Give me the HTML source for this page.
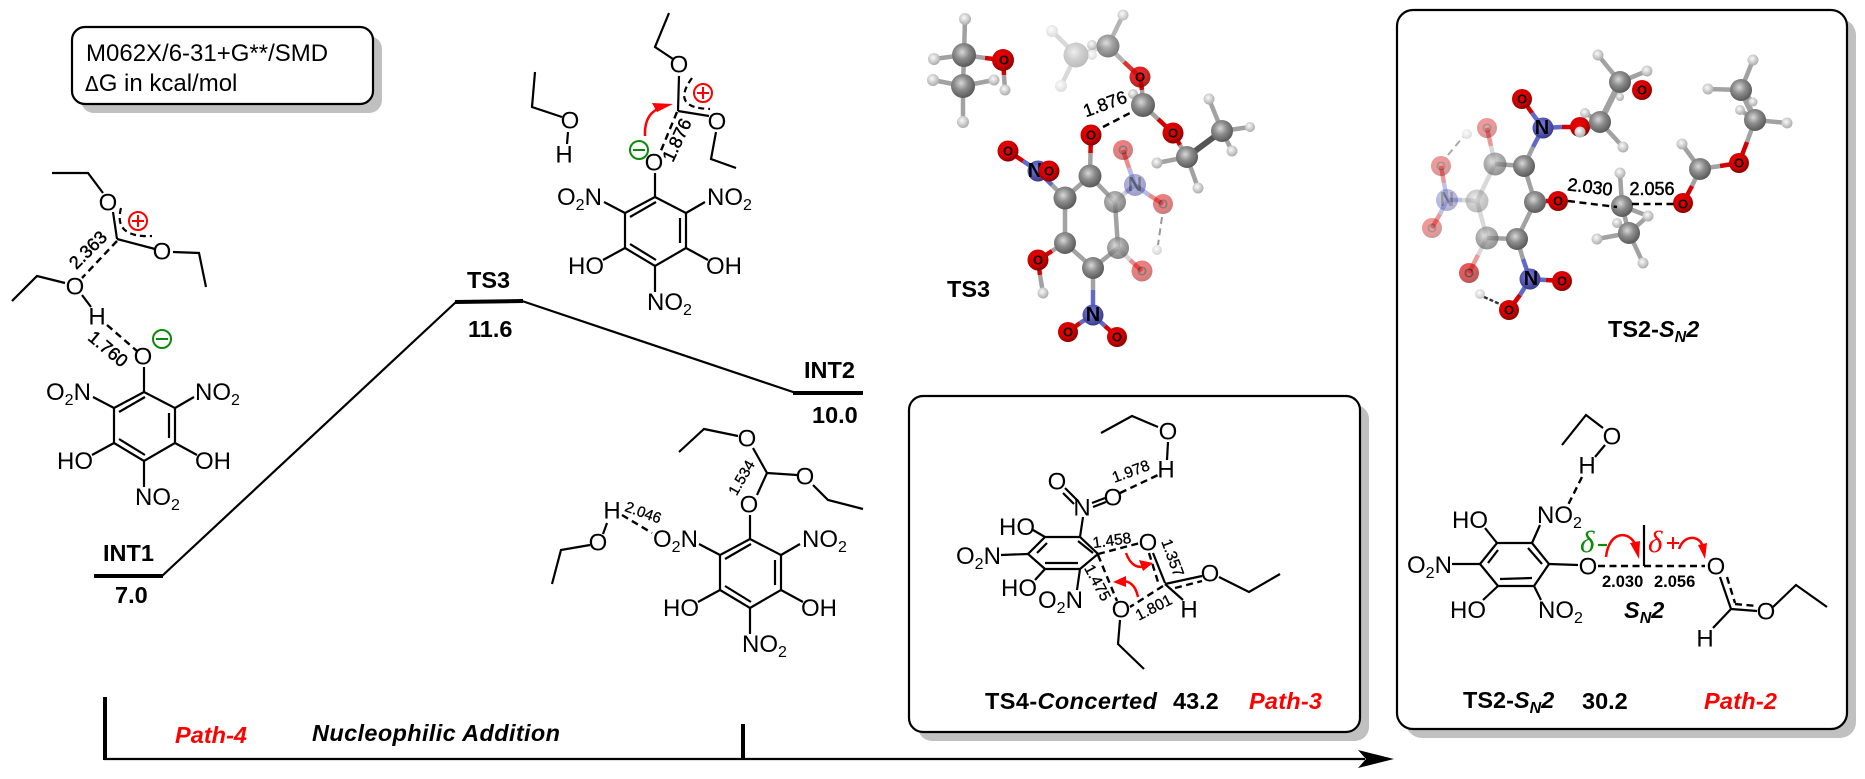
<!DOCTYPE html>
<html><head><meta charset="utf-8"><style>
html,body{margin:0;padding:0;background:#fff}
svg{display:block}
text{font-family:"Liberation Sans",sans-serif;fill:#000}
line,polyline,path.k{stroke:#000;stroke-width:2.2;fill:none}
.d{stroke-dasharray:7 4.5;stroke-width:2.4}
.t{font-size:24px}
.o{font-size:24px;text-anchor:middle;dominant-baseline:central}
.s{font-size:16px}
.n{font-weight:normal;text-anchor:middle;dominant-baseline:central;stroke:#000;stroke-width:.45}
.b{font-size:23.5px;font-weight:bold}
.bi{font-size:23.5px;font-weight:bold;font-style:italic}
.r{fill:#f00}
.bd line{stroke:#a2a2a2;stroke-width:4.5}
.bd line.rb{stroke:#d40000;stroke-width:4.5}
.bd line.nb{stroke:#6068c8;stroke-width:4.5}
.C{fill:url(#gC)}.H{fill:url(#gH)}.O{fill:url(#gO)}.N{fill:url(#gN)}
.a{font-size:13px;font-weight:bold;text-anchor:middle;dominant-baseline:central}
.nn{font-size:20px;font-weight:bold;text-anchor:middle;dominant-baseline:central}
</style></head><body>
<svg width="1865" height="779" viewBox="0 0 1865 779" xmlns="http://www.w3.org/2000/svg">
<defs>
<radialGradient id="gC" cx=".42" cy=".38" r=".65"><stop offset="0" stop-color="#d8d8d8"/><stop offset=".45" stop-color="#8c8c8c"/><stop offset="1" stop-color="#555"/></radialGradient>
<radialGradient id="gH" cx=".42" cy=".38" r=".65"><stop offset="0" stop-color="#fafafa"/><stop offset="1" stop-color="#a8a8a8"/></radialGradient>
<radialGradient id="gO" cx=".42" cy=".38" r=".65"><stop offset="0" stop-color="#f40000"/><stop offset=".6" stop-color="#d00000"/><stop offset="1" stop-color="#800000"/></radialGradient>
<radialGradient id="gN" cx=".42" cy=".38" r=".65"><stop offset="0" stop-color="#7880e8"/><stop offset="1" stop-color="#383888"/></radialGradient>
</defs>

<!-- Method box -->
<rect x="81" y="36" width="301" height="77" rx="13" fill="#c0c0c0"/>
<rect x="72" y="27" width="301" height="77" rx="13" fill="#fff" stroke="#000" stroke-width="2.2"/>
<text x="86" y="61" class="t">M062X/6-31+G**/SMD</text>
<text x="85" y="91" class="t"><tspan font-size="20" font-family="DejaVu Sans">Δ</tspan>G in kcal/mol</text>

<!-- Energy profile -->
<line x1="94" y1="576" x2="163" y2="576" style="stroke-width:4"/>
<line x1="162" y1="576" x2="456" y2="302"/>
<polyline points="455,302 523,301" style="stroke-width:4"/>
<line x1="522" y1="301" x2="796" y2="393"/>
<line x1="793" y1="393" x2="863" y2="393" style="stroke-width:4"/>
<text x="467" y="288" class="b">TS3</text>
<text x="468" y="337" class="b">11.6</text>
<text x="103" y="561" class="b">INT1</text>
<text x="115" y="603" class="b">7.0</text>
<text x="804" y="378" class="b">INT2</text>
<text x="812" y="423" class="b">10.0</text>

<!-- Axis -->
<line x1="105" y1="697" x2="105" y2="760" style="stroke-width:4"/>
<line x1="104" y1="759" x2="1365" y2="759"/>
<line x1="743" y1="724" x2="743" y2="759" style="stroke-width:4"/>
<polygon points="1394,759 1358,750 1366,759 1358,768" fill="#000"/>
<text x="175" y="743" class="bi r" textLength="72">Path-4</text>
<text x="312" y="741" class="bi" textLength="248">Nucleophilic Addition</text>

<!-- INT1 molecule -->
<polyline points="52,173 88,173 103,193"/>
<text x="108" y="203" class="o">O</text>
<line x1="113" y1="212" x2="117" y2="239"/>
<polyline points="117,239 155,249"/>
<text x="162" y="252" class="o">O</text>
<polyline points="173,252 199,253 206,287"/>
<path class="k d" d="M121,208 Q113,238 152,236" style="stroke-dasharray:6 4"/>
<circle cx="138" cy="221" r="9" fill="none" stroke="#f00" stroke-width="2"/>
<path d="M132,221H144M138,215V227" stroke="#f00" stroke-width="2"/>
<line class="d" x1="117" y1="241" x2="82" y2="278"/>
<text x="75" y="287" class="o">O</text>
<polyline points="65,283 37,276 12,301"/>
<line x1="82" y1="295" x2="91" y2="307"/>
<text x="97" y="317" class="o">H</text>
<line class="d" x1="107" y1="325" x2="137" y2="351"/>
<text x="143" y="357" class="o">O</text>
<circle cx="162" cy="339" r="9" fill="none" stroke="#0a8a0a" stroke-width="2"/>
<path d="M156,339H168" stroke="#0a8a0a" stroke-width="2"/>
<text class="n" transform="translate(88,250) rotate(-45)" style="font-size:18px">2.363</text>
<text class="n" transform="translate(108,349) rotate(40)" style="font-size:18px">1.760</text>
<line x1="144" y1="367" x2="144" y2="392"/>
<g>
<polygon points="144,392 175,408 175,443 144,461 114,443 114,408" fill="none" stroke="#000" stroke-width="2.2"/>
<line x1="119" y1="412" x2="145" y2="397"/><line x1="169" y1="413" x2="169" y2="438"/><line x1="119" y1="439" x2="145" y2="455"/>
<line x1="93" y1="397" x2="114" y2="408"/><line x1="194" y1="397" x2="175" y2="408"/><line x1="92" y1="455" x2="114" y2="443"/><line x1="197" y1="455" x2="175" y2="443"/><line x1="144" y1="461" x2="144" y2="487"/>
<text x="46" y="400" class="t">O<tspan class="s" dy="5">2</tspan><tspan dy="-5">N</tspan></text>
<text x="195" y="400" class="t">NO<tspan class="s" dy="5">2</tspan></text>
<text x="57" y="469" class="t">HO</text>
<text x="195" y="469" class="t">OH</text>
<text x="135" y="505" class="t">NO<tspan class="s" dy="5">2</tspan></text>
</g>

<!-- TS3 2D molecule -->
<polyline points="669,13 655,47 673,59"/>
<text x="679" y="65" class="o">O</text>
<line x1="679" y1="76" x2="678" y2="111"/>
<line x1="678" y1="111" x2="709" y2="116"/>
<text x="717" y="122" class="o">O</text>
<polyline points="716,132 711,159 736,168"/>
<line class="d" x1="677" y1="112" x2="660" y2="153"/>
<path class="k d" d="M692,78 Q670,108 710,109" style="stroke-dasharray:6 4"/>
<circle cx="703" cy="93" r="9" fill="none" stroke="#f00" stroke-width="2"/>
<path d="M697,93H709M703,87V99" stroke="#f00" stroke-width="2"/>
<circle cx="639" cy="150" r="9" fill="none" stroke="#0a8a0a" stroke-width="2"/>
<path d="M633,150H645" stroke="#0a8a0a" stroke-width="2"/>
<text class="n" transform="translate(677,140) rotate(-65)" style="font-size:18px">1.876</text>
<path d="M645,136 Q644,114 660,108" fill="none" stroke="#f00" stroke-width="2.5"/>
<polygon points="673,104 652,103 657,112" fill="#f00"/>
<polyline points="535,72 532,107 562,117"/>
<text x="570" y="121" class="o">O</text>
<line x1="568" y1="132" x2="567" y2="144"/>
<text x="564" y="155" class="o">H</text>
<text x="654" y="163" class="o">O</text>
<line x1="655" y1="173" x2="655" y2="197"/>
<g transform="translate(511,-195)">
<polygon points="144,392 175,408 175,443 144,461 114,443 114,408" fill="none" stroke="#000" stroke-width="2.2"/>
<line x1="119" y1="412" x2="145" y2="397"/><line x1="169" y1="413" x2="169" y2="438"/><line x1="119" y1="439" x2="145" y2="455"/>
<line x1="93" y1="397" x2="114" y2="408"/><line x1="194" y1="397" x2="175" y2="408"/><line x1="92" y1="455" x2="114" y2="443"/><line x1="197" y1="455" x2="175" y2="443"/><line x1="144" y1="461" x2="144" y2="487"/>
<text x="46" y="400" class="t">O<tspan class="s" dy="5">2</tspan><tspan dy="-5">N</tspan></text>
<text x="196" y="400" class="t">NO<tspan class="s" dy="5">2</tspan></text>
<text x="57" y="469" class="t">HO</text>
<text x="195" y="469" class="t">OH</text>
<text x="136" y="505" class="t">NO<tspan class="s" dy="5">2</tspan></text>
</g>

<!-- INT2 2D molecule -->
<polyline points="679,452 704,429 738,436"/>
<text x="747" y="439" class="o">O</text>
<line x1="753" y1="448" x2="767" y2="473"/>
<line x1="767" y1="473" x2="757" y2="495"/>
<line x1="767" y1="473" x2="797" y2="475"/>
<text x="805" y="477" class="o">O</text>
<polyline points="813,485 828,500 863,509"/>
<text x="749" y="505" class="o">O</text>
<line x1="750" y1="515" x2="750" y2="539"/>
<text class="n" transform="translate(742,478) rotate(-60)" style="font-size:15px;stroke-width:.3">1.534</text>
<text class="n" transform="translate(643,513) rotate(20)" style="font-size:15px;stroke-width:.3">2.046</text>
<text x="612" y="511" class="o">H</text>
<line class="d" x1="622" y1="515" x2="652" y2="533"/>
<line x1="607" y1="523" x2="603" y2="534"/>
<text x="598" y="543" class="o">O</text>
<polyline points="590,545 561,550 552,584"/>
<g transform="translate(606,147)">
<polygon points="144,392 175,408 175,443 144,461 114,443 114,408" fill="none" stroke="#000" stroke-width="2.2"/>
<line x1="119" y1="412" x2="145" y2="397"/><line x1="169" y1="413" x2="169" y2="438"/><line x1="119" y1="439" x2="145" y2="455"/>
<line x1="93" y1="397" x2="114" y2="408"/><line x1="194" y1="397" x2="175" y2="408"/><line x1="92" y1="455" x2="114" y2="443"/><line x1="197" y1="455" x2="175" y2="443"/><line x1="144" y1="461" x2="144" y2="487"/>
<text x="47" y="400" class="t">O<tspan class="s" dy="5">2</tspan><tspan dy="-5">N</tspan></text>
<text x="196" y="400" class="t">NO<tspan class="s" dy="5">2</tspan></text>
<text x="57" y="469" class="t">HO</text>
<text x="195" y="469" class="t">OH</text>
<text x="136" y="505" class="t">NO<tspan class="s" dy="5">2</tspan></text>
</g>

<!-- TS4 box -->
<rect x="918" y="405" width="451" height="336" rx="14" fill="#c0c0c0"/>
<rect x="909" y="396" width="451" height="336" rx="14" fill="#fff" stroke="#000" stroke-width="2.2"/>
<polygon points="1045,537 1080,537 1098,554 1080,569 1045,569 1028,554" fill="none" stroke="#000" stroke-width="2.2"/>
<line x1="1047" y1="543" x2="1037" y2="553"/><line x1="1045" y1="563" x2="1078" y2="563"/><line x1="1078" y1="541" x2="1093" y2="553"/>
<text x="999" y="535" class="t">HO</text><line x1="1033" y1="530" x2="1045" y2="537"/>
<text x="956" y="564" class="t">O<tspan class="s" dy="5">2</tspan><tspan dy="-5">N</tspan></text><line x1="1001" y1="555" x2="1028" y2="554"/>
<text x="1001" y="596" class="t">HO</text><line x1="1035" y1="580" x2="1045" y2="569"/>
<text x="1038" y="608" class="t">O<tspan class="s" dy="5">2</tspan><tspan dy="-5">N</tspan></text><line x1="1077" y1="590" x2="1080" y2="569"/>
<text x="1082" y="508" class="o">N</text><line x1="1083" y1="517" x2="1080" y2="537"/>
<text x="1057" y="482" class="o">O</text><text x="1113" y="498" class="o">O</text>
<line x1="1065" y1="488" x2="1077" y2="500"/><line x1="1063" y1="493" x2="1074" y2="504"/>
<line x1="1092" y1="503" x2="1105" y2="498"/><line x1="1093" y1="507" x2="1106" y2="502"/>
<line class="d" x1="1120" y1="493" x2="1158" y2="475"/>
<text x="1166" y="470" class="o">H</text>
<line x1="1168" y1="442" x2="1167" y2="460"/>
<text x="1168" y="432" class="o">O</text>
<polyline points="1158,427 1132,416 1101,433"/>
<line class="d" x1="1098" y1="554" x2="1140" y2="543"/>
<text x="1148" y="543" class="o">O</text>
<line class="d" x1="1098" y1="555" x2="1117" y2="601"/>
<text x="1121" y="610" class="o">O</text>
<line x1="1153" y1="553" x2="1165" y2="583"/>
<line class="d" x1="1149" y1="553" x2="1158" y2="582"/>
<line x1="1165" y1="584" x2="1202" y2="576"/>
<line class="d" x1="1175" y1="588" x2="1202" y2="581"/>
<text x="1210" y="574" class="o">O</text>
<polyline points="1219,577 1249,592 1280,574"/>
<line x1="1165" y1="584" x2="1183" y2="600"/>
<text x="1189" y="610" class="o">H</text>
<line class="d" x1="1163" y1="586" x2="1130" y2="607"/>
<polyline points="1120,620 1118,644 1144,669"/>
<path d="M1126,553 Q1133,572 1148,565" fill="none" stroke="#f00" stroke-width="2.5"/>
<polygon points="1153,563 1139,560 1143,571" fill="#f00"/>
<path d="M1138,597 Q1134,578 1118,582" fill="none" stroke="#f00" stroke-width="2.5"/>
<polygon points="1113,582 1126,576 1126,587" fill="#f00"/>
<text class="n" transform="translate(1112,541) rotate(-8)" style="font-size:15.5px;stroke-width:.3">1.458</text>
<text class="n" transform="translate(1131,472) rotate(-20)" style="font-size:15.5px;stroke-width:.3">1.978</text>
<text class="n" transform="translate(1172,558) rotate(70)" style="font-size:15.5px;stroke-width:.3">1.357</text>
<text class="n" transform="translate(1097,583) rotate(62)" style="font-size:15.5px;stroke-width:.3">1.475</text>
<text class="n" transform="translate(1154,608) rotate(-27)" style="font-size:15.5px;stroke-width:.3">1.801</text>
<text x="985" y="709" class="b" textLength="172">TS4-<tspan font-style="italic">Concerted</tspan></text>
<text x="1173" y="709" class="b">43.2</text>
<text x="1249" y="709" class="bi r" textLength="73">Path-3</text>

<!-- TS2 box -->
<rect x="1406" y="19" width="450" height="719" rx="16" fill="#c0c0c0"/>
<rect x="1397" y="10" width="450" height="719" rx="16" fill="#fff" stroke="#000" stroke-width="2.2"/>
<polygon points="1497,543 1532,543 1549,564 1534,586 1498,586 1480,564" fill="none" stroke="#000" stroke-width="2.2"/>
<line x1="1498" y1="550" x2="1488" y2="563"/><line x1="1528" y1="548" x2="1542" y2="564"/><line x1="1500" y1="579" x2="1532" y2="578"/>
<text x="1452" y="528" class="t">HO</text><line x1="1485" y1="528" x2="1497" y2="543"/>
<text x="1407" y="573" class="t">O<tspan class="s" dy="5">2</tspan><tspan dy="-5">N</tspan></text><line x1="1452" y1="564" x2="1480" y2="564"/>
<text x="1450" y="618" class="t">HO</text><line x1="1483" y1="600" x2="1498" y2="586"/>
<text x="1537" y="523" class="t">NO<tspan class="s" dy="5">2</tspan></text><line x1="1540" y1="525" x2="1532" y2="543"/>
<text x="1538" y="618" class="t">NO<tspan class="s" dy="5">2</tspan></text><line x1="1541" y1="600" x2="1534" y2="586"/>
<line x1="1549" y1="564" x2="1578" y2="565"/>
<text x="1588" y="567" class="o">O</text>
<line class="d" x1="1598" y1="566" x2="1705" y2="566"/>
<line x1="1644" y1="525" x2="1644" y2="566"/>
<text x="1716" y="567" class="o">O</text>
<line x1="1720" y1="577" x2="1731" y2="609"/>
<line class="d" x1="1727" y1="577" x2="1735" y2="603"/>
<line x1="1731" y1="609" x2="1757" y2="611"/>
<line class="d" x1="1735" y1="604" x2="1757" y2="606"/>
<text x="1766" y="612" class="o">O</text>
<polyline points="1773,607 1796,585 1827,607"/>
<line x1="1731" y1="609" x2="1713" y2="628"/>
<text x="1705" y="639" class="o">H</text>
<text x="1587" y="466" class="o">H</text>
<line class="d" x1="1582" y1="477" x2="1568" y2="505"/>
<text x="1612" y="437" class="o">O</text>
<line x1="1605" y1="445" x2="1595" y2="457"/>
<polyline points="1603,428 1586,415 1562,445"/>
<text x="1580" y="552" style="font-family:'Liberation Serif',serif;font-style:italic;font-size:31px;fill:#0a8a0a">δ</text>
<line x1="1598" y1="545" x2="1607" y2="545" style="stroke:#0a8a0a"/>
<text x="1648" y="552" style="font-family:'Liberation Serif',serif;font-style:italic;font-size:31px;fill:#f00">δ</text>
<path d="M1667,543H1679M1673,537V549" stroke="#f00" stroke-width="2"/>
<path d="M1606,557 C1609,530 1630,530 1636,546" fill="none" stroke="#f00" stroke-width="2.5"/>
<polygon points="1639,559 1630,543 1640,541" fill="#f00"/>
<path d="M1679,549 C1684,534 1700,535 1703,547" fill="none" stroke="#f00" stroke-width="2.5"/>
<polygon points="1705,559 1698,545 1707,543" fill="#f00"/>
<text x="1602" y="587" style="font-size:16.5px;font-weight:bold">2.030</text>
<text x="1654" y="587" style="font-size:16.5px;font-weight:bold">2.056</text>
<text x="1624" y="618" class="bi">S<tspan font-size="16" dy="5">N</tspan><tspan dy="-5">2</tspan></text>
<text x="1463" y="708" class="b">TS2-<tspan font-style="italic">S</tspan><tspan font-size="16" font-style="italic" dy="5">N</tspan><tspan font-style="italic" dy="-5">2</tspan></text>
<text x="1582" y="709" class="b">30.2</text>
<text x="1704" y="709" class="bi r" textLength="73">Path-2</text>
<text x="1608" y="337" class="b">TS2-<tspan font-style="italic">S</tspan><tspan font-size="16" font-style="italic" dy="5">N</tspan><tspan font-style="italic" dy="-5">2</tspan></text>
<text x="947" y="297" class="b">TS3</text>

<!-- TS3 3D -->
<g class="bd">
<line x1="964" y1="55" x2="963" y2="86"/><line x1="964" y1="55" x2="965" y2="19"/><line x1="964" y1="55" x2="934" y2="59"/>
<line x1="964" y1="55" x2="985" y2="58"/><line class="rb" x1="985" y1="58" x2="1003" y2="60"/><line class="rb" x1="1003" y1="60" x2="1004" y2="75"/><line x1="1004" y1="75" x2="1005" y2="90"/>
<line x1="963" y1="86" x2="933" y2="80"/><line x1="963" y1="86" x2="994" y2="80"/><line x1="963" y1="86" x2="963" y2="122"/>
</g>
<circle class="H" cx="965" cy="19" r="6"/><circle class="H" cx="934" cy="59" r="6"/><circle class="H" cx="933" cy="80" r="6"/><circle class="H" cx="994" cy="80" r="5.5"/><circle class="H" cx="963" cy="122" r="6"/><circle class="H" cx="1005" cy="90" r="5.5"/>
<circle class="C" cx="964" cy="55" r="12"/><circle class="C" cx="963" cy="86" r="12"/>
<circle class="O" cx="1003" cy="60" r="11"/><text x="1004" y="60" class="a">O</text>

<g opacity=".4">
<g class="bd">
<line x1="1108" y1="46" x2="1076" y2="55"/><line x1="1076" y1="55" x2="1052" y2="31"/><line x1="1076" y1="55" x2="1061" y2="86"/><line x1="1076" y1="55" x2="1092" y2="55"/>
</g>
<circle class="H" cx="1052" cy="31" r="6"/><circle class="H" cx="1061" cy="86" r="6"/><circle class="H" cx="1092" cy="55" r="5"/>
<circle class="C" cx="1076" cy="55" r="12.5"/>
</g>
<g opacity=".8">
<g class="bd"><line x1="1108" y1="46" x2="1123" y2="15"/><line x1="1108" y1="46" x2="1124" y2="62"/><line class="rb" x1="1124" y1="62" x2="1140" y2="77"/></g>
<circle class="H" cx="1123" cy="15" r="5.5"/><circle class="H" cx="1092" cy="45" r="5"/>
<circle class="C" cx="1108" cy="46" r="11.5"/>
</g>
<g class="bd">
<line class="rb" x1="1140" y1="77" x2="1142" y2="90"/><line x1="1142" y1="90" x2="1143" y2="105"/><line x1="1143" y1="105" x2="1158" y2="119"/><line class="rb" x1="1158" y1="119" x2="1173" y2="133"/>
<line class="rb" x1="1173" y1="133" x2="1180" y2="145"/><line x1="1180" y1="145" x2="1187" y2="157"/><line x1="1187" y1="157" x2="1222" y2="131" style="stroke:#555;stroke-width:6"/><line x1="1222" y1="131" x2="1209" y2="99"/><line x1="1222" y1="131" x2="1250" y2="127"/><line x1="1222" y1="131" x2="1232" y2="151"/><line x1="1187" y1="157" x2="1157" y2="163"/><line x1="1187" y1="157" x2="1198" y2="188"/>
</g>
<circle class="O" cx="1140" cy="77" r="10.5" opacity=".85"/><text x="1140" y="77" class="a">O</text>
<circle class="H" cx="1133" cy="94" r="5"/>
<circle class="C" cx="1143" cy="105" r="12"/>
<circle class="H" cx="1209" cy="99" r="5.5"/><circle class="H" cx="1250" cy="127" r="5"/><circle class="H" cx="1232" cy="151" r="5.5"/><circle class="H" cx="1157" cy="163" r="5.5"/><circle class="H" cx="1198" cy="188" r="5.5"/>
<circle class="O" cx="1173" cy="133" r="10.5"/><text x="1173" y="133" class="a">O</text>
<circle class="C" cx="1187" cy="157" r="11"/><circle class="C" cx="1222" cy="131" r="11"/>
<line class="d" x1="1103" y1="127" x2="1130" y2="113" style="stroke-width:2.5"/>
<text class="n" transform="translate(1105,104) rotate(-20)" style="font-size:18px;stroke-width:.35">1.876</text>

<g class="bd">
<line class="rb" x1="1091" y1="135" x2="1090.5" y2="153"/><line x1="1090.5" y1="153" x2="1090" y2="176"/>
<line x1="1090" y1="176" x2="1065" y2="198"/><line x1="1065" y1="198" x2="1065" y2="243"/><line x1="1065" y1="243" x2="1093" y2="268"/><line x1="1093" y1="268" x2="1118" y2="248"/><line x1="1118" y1="248" x2="1115" y2="202"/><line x1="1115" y1="202" x2="1090" y2="176"/>
<line x1="1065" y1="198" x2="1052" y2="185"/><line class="nb" x1="1052" y1="185" x2="1038" y2="171"/><line class="nb" x1="1038" y1="171" x2="1023" y2="161"/><line class="rb" x1="1023" y1="161" x2="1008" y2="151"/>
<line x1="1065" y1="243" x2="1052" y2="251"/><line class="rb" x1="1052" y1="251" x2="1038" y2="260"/><line class="rb" x1="1038" y1="260" x2="1040" y2="275"/><line x1="1040" y1="275" x2="1043" y2="293"/>
<line x1="1093" y1="268" x2="1093" y2="290"/><line class="nb" x1="1093" y1="290" x2="1093" y2="315"/><line class="nb" x1="1093" y1="315" x2="1080" y2="323"/><line class="rb" x1="1080" y1="323" x2="1068" y2="332"/><line class="nb" x1="1093" y1="315" x2="1105" y2="326"/><line class="rb" x1="1105" y1="326" x2="1117" y2="337"/>
</g>
<g opacity=".45" class="bd">
<line x1="1115" y1="202" x2="1125" y2="193"/><line class="nb" x1="1125" y1="193" x2="1135" y2="185"/><line class="nb" x1="1135" y1="185" x2="1129" y2="168"/><line class="rb" x1="1129" y1="168" x2="1123" y2="150"/><line class="nb" x1="1135" y1="185" x2="1149" y2="195"/><line class="rb" x1="1149" y1="195" x2="1163" y2="204"/><line x1="1118" y1="248" x2="1130" y2="260"/><line class="rb" x1="1130" y1="260" x2="1142" y2="271"/>
</g>
<line class="d" x1="1162" y1="217" x2="1158" y2="245" style="stroke:#999;stroke-width:2"/>
<g opacity=".5">
<circle class="O" cx="1123" cy="150" r="10"/><text x="1123" y="150" class="a">O</text>
<circle class="N" cx="1135" cy="185" r="11"/><text x="1135" y="185" class="nn">N</text>
<circle class="O" cx="1163" cy="204" r="10"/><text x="1163" y="204" class="a">O</text>
<circle class="H" cx="1157" cy="250" r="5"/>
<circle class="O" cx="1142" cy="271" r="10.5"/><text x="1142" y="271" class="a">O</text>
</g>
<circle class="C" cx="1115" cy="202" r="11" opacity=".75"/><circle class="C" cx="1118" cy="248" r="11" opacity=".75"/>
<circle class="O" cx="1091" cy="135" r="10.5"/><text x="1091" y="135" class="a">O</text>
<circle class="C" cx="1090" cy="176" r="11.5"/><circle class="C" cx="1065" cy="198" r="11.5"/><circle class="C" cx="1065" cy="243" r="11"/><circle class="C" cx="1093" cy="268" r="11"/>
<circle class="O" cx="1008" cy="151" r="10.5"/><text x="1008" y="151" class="a">O</text>
<circle class="N" cx="1038" cy="171" r="10.5"/><text x="1035" y="171" class="nn">N</text>
<circle class="O" cx="1049" cy="171" r="10.5"/><text x="1049" y="171" class="a">O</text>
<circle class="O" cx="1038" cy="260" r="10.5"/><text x="1038" y="260" class="a">O</text>
<circle class="H" cx="1043" cy="293" r="5.5"/>
<circle class="N" cx="1093" cy="315" r="10.5"/><text x="1093" y="315" class="nn">N</text>
<circle class="O" cx="1068" cy="332" r="10"/><text x="1068" y="332" class="a">O</text>
<circle class="O" cx="1117" cy="337" r="10"/><text x="1117" y="337" class="a">O</text>

<!-- TS2 3D -->
<g class="bd">
<line x1="1620" y1="82" x2="1598" y2="55"/><line x1="1620" y1="82" x2="1647" y2="71"/><line x1="1620" y1="82" x2="1600" y2="122" style="stroke-width:6"/><line x1="1600" y1="122" x2="1623" y2="147"/><line x1="1600" y1="122" x2="1580" y2="132"/><line x1="1600" y1="122" x2="1585" y2="113"/>
<line class="nb" x1="1543" y1="128" x2="1532" y2="113"/><line class="rb" x1="1532" y1="113" x2="1522" y2="99"/><line class="nb" x1="1543" y1="128" x2="1562" y2="127"/><line class="rb" x1="1562" y1="127" x2="1580" y2="127"/><line x1="1524" y1="166" x2="1533" y2="147"/><line class="nb" x1="1533" y1="147" x2="1543" y2="128"/>
<line x1="1524" y1="166" x2="1535" y2="202"/><line x1="1535" y1="202" x2="1517" y2="239"/><line x1="1524" y1="166" x2="1495" y2="164"/>
<line x1="1517" y1="239" x2="1487" y2="238"/><line x1="1517" y1="239" x2="1523" y2="259"/><line class="nb" x1="1523" y1="259" x2="1530" y2="279"/><line class="nb" x1="1530" y1="279" x2="1546" y2="280"/><line class="rb" x1="1546" y1="280" x2="1562" y2="281"/><line class="nb" x1="1530" y1="279" x2="1520" y2="295"/><line class="rb" x1="1520" y1="295" x2="1509" y2="310"/>
<line x1="1535" y1="202" x2="1546" y2="201"/><line class="rb" x1="1546" y1="201" x2="1558" y2="201"/>
</g>
<g opacity=".4" class="bd">
<line x1="1495" y1="164" x2="1477" y2="201"/><line x1="1477" y1="201" x2="1487" y2="238"/><line x1="1477" y1="201" x2="1462" y2="200"/><line class="nb" x1="1462" y1="200" x2="1447" y2="200"/><line class="nb" x1="1447" y1="200" x2="1444" y2="183"/><line class="rb" x1="1444" y1="183" x2="1441" y2="166"/><line class="nb" x1="1447" y1="200" x2="1440" y2="214"/><line class="rb" x1="1440" y1="214" x2="1432" y2="228"/><line x1="1495" y1="164" x2="1491" y2="146"/><line class="rb" x1="1491" y1="146" x2="1487" y2="128"/><line x1="1487" y1="238" x2="1478" y2="255"/><line class="rb" x1="1478" y1="255" x2="1469" y2="273"/>
</g>
<line class="d" x1="1448" y1="155" x2="1463" y2="137" style="stroke:#aaa;stroke-width:2"/>
<line class="d" x1="1484" y1="297" x2="1502" y2="305" style="stroke-dasharray:4 2;stroke:#333"/>
<circle class="H" cx="1598" cy="55" r="5.5"/><circle class="H" cx="1647" cy="71" r="5.5"/><circle class="H" cx="1623" cy="147" r="5.5"/><circle class="H" cx="1620" cy="97" r="4"/>
<circle class="O" cx="1642" cy="90" r="10"/><text x="1642" y="90" class="a">O</text>
<circle class="C" cx="1620" cy="82" r="11"/>
<circle class="O" cx="1580" cy="127" r="10"/>
<circle class="H" cx="1580" cy="132" r="5.5"/><circle class="H" cx="1585" cy="113" r="5"/>
<circle class="C" cx="1600" cy="122" r="11"/>
<circle class="O" cx="1522" cy="99" r="10"/><text x="1522" y="99" class="a">O</text>
<circle class="N" cx="1543" cy="128" r="10.5"/><text x="1542" y="128" class="nn">N</text>
<g opacity=".4">
<circle class="O" cx="1487" cy="128" r="10"/><text x="1487" y="128" class="a">O</text>
<circle class="H" cx="1467" cy="134" r="5"/>
<circle class="O" cx="1441" cy="166" r="10"/><text x="1441" y="166" class="a">O</text>
<circle class="N" cx="1447" cy="200" r="11"/><text x="1447" y="200" class="nn">N</text>
<circle class="O" cx="1432" cy="228" r="10"/><text x="1432" y="228" class="a">O</text>
<circle class="C" cx="1477" cy="201" r="11.5"/>
</g>
<g opacity=".65">
<circle class="C" cx="1495" cy="164" r="11.5"/><circle class="C" cx="1487" cy="238" r="11.5"/>
<circle class="O" cx="1469" cy="273" r="10"/><text x="1469" y="273" class="a">O</text>
<circle class="H" cx="1480" cy="294" r="5"/>
</g>
<circle class="C" cx="1524" cy="166" r="11"/><circle class="C" cx="1535" cy="202" r="11"/><circle class="C" cx="1517" cy="239" r="11"/>
<circle class="O" cx="1558" cy="201" r="10"/><text x="1558" y="201" class="a">O</text>
<circle class="O" cx="1509" cy="310" r="10"/><text x="1509" y="310" class="a">O</text>
<circle class="N" cx="1530" cy="279" r="10.5"/><text x="1531" y="279" class="nn">N</text>
<circle class="O" cx="1562" cy="281" r="10"/><text x="1562" y="281" class="a">O</text>

<g class="bd">
<line x1="1622" y1="206" x2="1620" y2="173"/><line x1="1622" y1="206" x2="1629" y2="233"/><line x1="1622" y1="206" x2="1648" y2="216"/><line x1="1629" y1="233" x2="1597" y2="239"/><line x1="1629" y1="233" x2="1643" y2="263"/><line x1="1629" y1="233" x2="1648" y2="216"/><line x1="1629" y1="233" x2="1617" y2="223"/>
<line x1="1700" y1="169" x2="1682" y2="144"/><line x1="1700" y1="169" x2="1692" y2="186"/><line class="rb" x1="1692" y1="186" x2="1683" y2="203"/><line x1="1700" y1="169" x2="1720" y2="166"/><line class="rb" x1="1720" y1="166" x2="1739" y2="163"/><line class="rb" x1="1739" y1="163" x2="1747" y2="142"/><line x1="1747" y1="142" x2="1755" y2="120"/><line x1="1755" y1="120" x2="1787" y2="123"/><line x1="1755" y1="120" x2="1740" y2="110"/><line x1="1755" y1="120" x2="1741" y2="90" style="stroke-width:6"/><line x1="1741" y1="90" x2="1708" y2="89"/><line x1="1741" y1="90" x2="1753" y2="60"/><line x1="1741" y1="90" x2="1753" y2="102"/>
</g>
<circle class="H" cx="1620" cy="173" r="5.5"/><circle class="H" cx="1648" cy="216" r="5.5"/><circle class="H" cx="1617" cy="223" r="5"/><circle class="H" cx="1597" cy="239" r="5.5"/><circle class="H" cx="1643" cy="263" r="5.5"/>
<circle class="C" cx="1629" cy="233" r="11"/><circle class="C" cx="1622" cy="206" r="11"/>
<circle class="H" cx="1682" cy="144" r="5.5"/><circle class="H" cx="1787" cy="123" r="5.5"/><circle class="H" cx="1753" cy="102" r="4.5"/><circle class="H" cx="1740" cy="110" r="5"/><circle class="H" cx="1708" cy="89" r="5.5"/><circle class="H" cx="1753" cy="60" r="5.5"/>
<circle class="C" cx="1741" cy="90" r="11"/><circle class="C" cx="1755" cy="120" r="11"/>
<circle class="C" cx="1700" cy="169" r="11"/>
<circle class="O" cx="1683" cy="203" r="10"/><text x="1683" y="204" class="a">O</text>
<circle class="O" cx="1739" cy="163" r="10"/><text x="1739" y="163" class="a">O</text>
<line class="d" x1="1568" y1="201" x2="1617" y2="207" style="stroke-width:2.4"/>
<line class="d" x1="1632" y1="204" x2="1675" y2="204" style="stroke-width:2.4"/>
<text class="n" transform="translate(1590,187) rotate(7)" style="font-size:18px;stroke-width:.5">2.030</text>
<text class="n" transform="translate(1652,189)" style="font-size:18px;stroke-width:.5">2.056</text>
</svg>
</body></html>
